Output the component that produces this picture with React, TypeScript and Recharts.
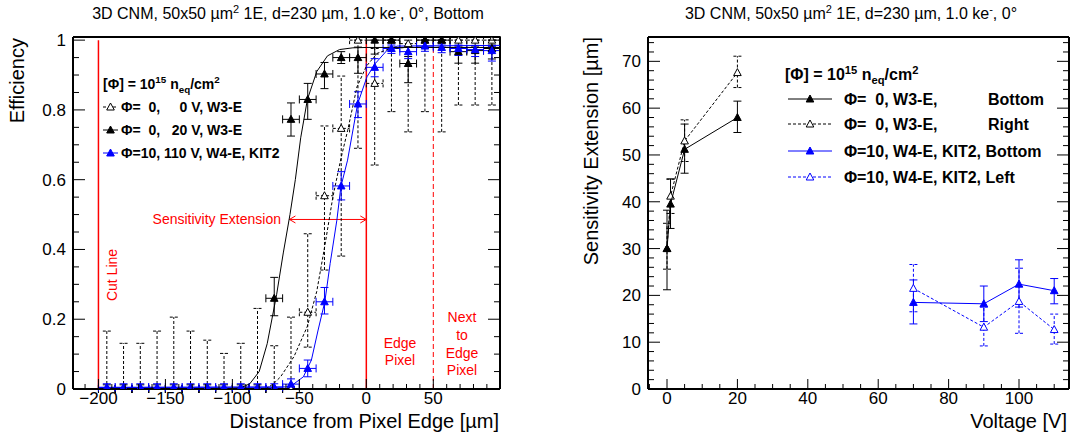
import React from "react"
import {
  ComposedChart,
  Scatter,
  XAxis,
  YAxis,
  ErrorBar,
  ReferenceLine
} from "recharts"

const FONT = "'Liberation Sans', Arial, Helvetica, sans-serif"
const RED = "#ff0000"
const BLUE = "#0000ff"

// ---------- left panel: efficiency vs distance from pixel edge ----------
const binCenters = [
  -193.75, -181.25, -168.75, -156.25, -143.75, -131.25, -118.75, -106.25,
  -93.75, -81.25, -68.75, -56.25, -43.75, -31.25, -18.75, -6.25,
  6.25, 18.75, 31.25, 43.75, 56.25, 68.75, 81.25, 93.75
]
const binHalfWidth = 6.25

// Phi=0, 0 V, W3-E (open, dashed errors)
const eff0V = [0, 0, 0, 0, 0, 0, 0, 0, 0, 0, 0, 0, 0.22, 0.554, 0.747, 1.0, 0.876, 1.0, 0.99, 1.0, 1.0, 1.0, 1.0, 1.0]
const err0VLo = [0, 0, 0, 0, 0, 0, 0, 0, 0, 0, 0, 0, 0.1, 0.213, 0.366, 0.31, 0.234, 0.205, 0.253, 0.205, 0.263, 0.186, 0.186, 0.186]
const err0VHi = [0.166, 0.131, 0.131, 0.166, 0.206, 0.166, 0.14, 0.102, 0.131, 0.231, 0.124, 0.206, 0.225, 0.2, 0.15, 0, 0.1, 0, 0.01, 0, 0, 0, 0, 0]

// Phi=0, 20 V, W3-E (filled black)
const eff20V = [0, 0, 0, 0, 0, 0, 0, 0, 0, 0, 0.26, 0.773, 0.83, 0.903, 0.95, 0.95, 1.0, 1.0, 0.933, 1.0, 1.0, 0.967, 0.97, 0.976]
const err20VLo = [0, 0, 0, 0, 0, 0, 0, 0, 0, 0, 0.05, 0.048, 0.057, 0.042, 0.017, 0.045, 0.04, 0.02, 0.055, 0.02, 0.02, 0.033, 0.036, 0.03]
const err20VHi = [0.012, 0.012, 0.012, 0.012, 0.012, 0.012, 0.012, 0.012, 0.012, 0.012, 0.06, 0.047, 0.046, 0.033, 0.017, 0.03, 0, 0, 0.02, 0, 0, 0.016, 0.013, 0.01]

// Phi=10, 110 V, W4-E, KIT2 (filled blue)
const eff110V = [0.005, 0.005, 0.005, 0.005, 0.005, 0.005, 0.005, 0.005, 0.005, 0.005, 0.005, 0.014, 0.059, 0.25, 0.582, 0.817, 0.922, 0.976, 0.967, 0.983, 0.979, 0.976, 0.973, 0.97]
const err110VLo = [0.005, 0.005, 0.005, 0.005, 0.005, 0.005, 0.005, 0.005, 0.005, 0.005, 0.005, 0.01, 0.024, 0.035, 0.04, 0.039, 0.027, 0.014, 0.02, 0.015, 0.015, 0.02, 0.02, 0.03]
const err110VHi = [0.01, 0.01, 0.01, 0.01, 0.01, 0.01, 0.01, 0.01, 0.01, 0.01, 0.01, 0.015, 0.024, 0.041, 0.041, 0.035, 0.025, 0.01, 0.015, 0.01, 0.01, 0.01, 0.012, 0.012]

// fit curves
const fit20VX = [-105, -94, -87, -80, -74, -67, -62, -57, -53, -49, -44, -37, -29, -20, -10, 0, 100]
const fit20VY = [0, 0.003, 0.015, 0.05, 0.13, 0.27, 0.39, 0.5, 0.6, 0.72, 0.83, 0.91, 0.955, 0.973, 0.978, 0.979, 0.979]
const fit0VX = [-75, -69, -64, -54, -44, -37, -31, -25, -19, -14, -7, 0, 8, 18, 30, 100]
const fit0VY = [0, 0.016, 0.035, 0.093, 0.18, 0.28, 0.41, 0.55, 0.66, 0.74, 0.866, 0.925, 0.962, 0.976, 0.979, 0.979]
const fit110VX = [-200, -60, -56, -47, -41, -36, -31, -27, -22, -19, -14, -6.5, 0.5, 6.7, 15.5, 23, 100]
const fit110VY = [0.004, 0.006, 0.009, 0.035, 0.083, 0.169, 0.25, 0.36, 0.484, 0.58, 0.656, 0.817, 0.895, 0.933, 0.971, 0.983, 0.985]

const cutLineX = -200
const edgeX = 0
const nextEdgeX = 50
const arrowFrom = -57.4
const arrowY = 0.486

// ---------- right panel: sensitivity extension vs voltage ----------
const voltsW3 = [0, 1, 5, 20]
const extW3Bottom = [30, 39.5, 51.2, 58]
const extW3BottomLo = [8.8, 5.2, 5.1, 3.2]
const extW3BottomHi = [8.2, 5.4, 5.4, 3.5]
const extW3Right = [30, 41.2, 53, 67.6]
const extW3RightLo = [4.4, 3.7, 4.4, 3.2]
const extW3RightHi = [5.4, 3.6, 4.5, 3.5]

const voltsW4 = [70, 90, 100, 110]
const extW4Bottom = [18.5, 18.2, 22.4, 21.0]
const extW4BottomLo = [4.6, 3.8, 4.9, 2.8]
const extW4BottomHi = [4.8, 3.8, 5.2, 2.6]
const extW4Left = [21.5, 13.2, 18.7, 12.7]
const extW4LeftLo = [5.0, 4.0, 6.8, 3.1]
const extW4LeftHi = [5.1, 4.3, 7.1, 3.3]

// ---------- helpers ----------
const binRows = (eff: number[], lo: number[], hi: number[]) =>
  binCenters.map((x, i) => ({ x, y: eff[i], ex: binHalfWidth, ey: [lo[i], hi[i]] }))

const curveRows = (xs: number[], ys: number[]) => xs.map((x, i) => ({ x, y: ys[i] }))

const voltRows = (xs: number[], ys: number[], lo: number[], hi: number[]) =>
  xs.map((x, i) => ({ x, y: ys[i], ey: [lo[i], hi[i]] }))

const range = (a: number, b: number, s: number) => {
  const out: number[] = []
  for (let v = a; v <= b + 1e-9; v += s) out.push(Math.round(v * 1000) / 1000)
  return out
}

function triangle(cx: number, cy: number, color: string, filled: boolean) {
  return (
    <polygon
      points={`${cx},${cy - 4} ${cx - 3.8},${cy + 3} ${cx + 3.8},${cy + 3}`}
      fill={filled ? color : "#fff"}
      stroke={color}
      strokeWidth={1}
    />
  )
}

const Marker = (color: string, filled: boolean) => (p: any) =>
  p.cx == null ? <g /> : triangle(p.cx, p.cy, color, filled)

const NoMarker = () => <g />

type Side = "bottom" | "top" | "left" | "right"

function makeTick(side: Side, step: number, majorLen: number, minorLen: number, fmt?: (v: number) => string) {
  return function TickMark(props: any) {
    const { x, y, payload } = props
    const v = Number(payload.value)
    const major = Math.abs(v / step - Math.round(v / step)) < 1e-6
    const len = major ? majorLen : minorLen
    let x2 = x
    let y2 = y
    if (side === "bottom") y2 = y - len
    if (side === "top") y2 = y + len
    if (side === "left") x2 = x + len
    if (side === "right") x2 = x - len
    return (
      <g>
        <line x1={x} y1={y} x2={x2} y2={y2} stroke="#000" strokeWidth={1} />
        {fmt && major && side === "bottom" && (
          <text x={x} y={y + 15} textAnchor="middle" fontSize={17} fontFamily={FONT} fill="#000">{fmt(v)}</text>
        )}
        {fmt && major && side === "left" && (
          <text x={x - 7} y={y + 6} textAnchor="end" fontSize={17} fontFamily={FONT} fill="#000">{fmt(v)}</text>
        )}
      </g>
    )
  }
}

const minusFmt = (v: number) => (v < 0 ? "\u2212" + Math.abs(v) : String(v))
const effFmt = (v: number) => (v === 0 ? "0" : v === 1 ? "1" : v.toFixed(1))

const ArrowShape = (p: any) => {
  const { x1, y1, x2, y2 } = p
  const h = 6
  return (
    <g stroke={RED} strokeWidth={1} fill="none">
      <line x1={x1} y1={y1} x2={x2} y2={y2} />
      <polyline points={`${x1 + h},${y1 - 3.5} ${x1},${y1} ${x1 + h},${y1 + 3.5}`} />
      <polyline points={`${x2 - h},${y2 - 3.5} ${x2},${y2} ${x2 - h},${y2 + 3.5}`} />
    </g>
  )
}

const frame = { stroke: "#000", strokeWidth: 2 }

function EfficiencyPanel() {
  const xTicks = range(-210, 90, 10)
  const yTicks = range(0, 1, 0.05)
  const xDomain = [-219, 99.8]
  const yDomain = [0, 1.009]
  return (
    <ComposedChart width={530} height={436} margin={{ top: 0, right: 0, bottom: 0, left: 0 }}>
      <XAxis dataKey="x" type="number" domain={xDomain} allowDataOverflow ticks={xTicks} interval={0}
        height={47} tickSize={0} tickMargin={0} tickLine={false} axisLine={frame}
        tick={makeTick("bottom", 50, 10, 5, minusFmt)} />
      <XAxis xAxisId="top" orientation="top" type="number" domain={xDomain} allowDataOverflow ticks={xTicks} interval={0}
        height={37} tickSize={0} tickMargin={0} tickLine={false} axisLine={frame}
        tick={makeTick("top", 50, 10, 5)} />
      <YAxis dataKey="y" type="number" domain={yDomain} allowDataOverflow ticks={yTicks} interval={0}
        width={73} tickSize={0} tickMargin={0} tickLine={false} axisLine={frame}
        tick={makeTick("left", 0.2, 12, 6, effFmt)} />
      <YAxis yAxisId="right" orientation="right" type="number" domain={yDomain} allowDataOverflow ticks={yTicks} interval={0}
        width={30} tickSize={0} tickMargin={0} tickLine={false} axisLine={frame}
        tick={makeTick("right", 0.2, 12, 6)} />

      <ReferenceLine segment={[{ x: cutLineX, y: 0 }, { x: cutLineX, y: 1 }]} stroke={RED} strokeWidth={1.5} />
      <ReferenceLine segment={[{ x: edgeX, y: 0 }, { x: edgeX, y: 1 }]} stroke={RED} strokeWidth={1.5} />
      <ReferenceLine segment={[{ x: nextEdgeX, y: 0 }, { x: nextEdgeX, y: 1 }]} stroke={RED} strokeWidth={1} strokeDasharray="5 3" />
      <ReferenceLine segment={[{ x: arrowFrom, y: arrowY }, { x: edgeX, y: arrowY }]} shape={ArrowShape} />

      <Scatter data={curveRows(fit110VX, fit110VY)} shape={NoMarker} line={{ stroke: BLUE, strokeWidth: 1 }} isAnimationActive={false} />
      <Scatter data={curveRows(fit0VX, fit0VY)} shape={NoMarker} line={{ stroke: "#000", strokeWidth: 1, strokeDasharray: "3 2" }} isAnimationActive={false} />
      <Scatter data={curveRows(fit20VX, fit20VY)} shape={NoMarker} line={{ stroke: "#000", strokeWidth: 1 }} isAnimationActive={false} />

      <Scatter data={binRows(eff0V, err0VLo, err0VHi)} shape={Marker("#000", false)} isAnimationActive={false}>
        <ErrorBar dataKey="ex" direction="x" width={4} stroke="#000" strokeWidth={1} strokeDasharray="3 2" />
        <ErrorBar dataKey="ey" direction="y" width={4} stroke="#000" strokeWidth={1} strokeDasharray="3 2" />
      </Scatter>
      <Scatter data={binRows(eff20V, err20VLo, err20VHi)} shape={Marker("#000", true)} isAnimationActive={false}>
        <ErrorBar dataKey="ex" direction="x" width={4} stroke="#000" strokeWidth={1} />
        <ErrorBar dataKey="ey" direction="y" width={4} stroke="#000" strokeWidth={1} />
      </Scatter>
      <Scatter data={binRows(eff110V, err110VLo, err110VHi)} shape={Marker(BLUE, true)} isAnimationActive={false}>
        <ErrorBar dataKey="ex" direction="x" width={4} stroke={BLUE} strokeWidth={1} />
        <ErrorBar dataKey="ey" direction="y" width={4} stroke={BLUE} strokeWidth={1} />
      </Scatter>
    </ComposedChart>
  )
}

function ExtensionPanel() {
  const xTicks = range(-5, 110, 5)
  const yTicks = range(0, 74, 2)
  const xDomain = [-5.4, 114.2]
  const yDomain = [0, 75.2]
  return (
    <ComposedChart width={531} height={436} margin={{ top: 0, right: 0, bottom: 0, left: 0 }}>
      <XAxis dataKey="x" type="number" domain={xDomain} allowDataOverflow ticks={xTicks} interval={0}
        height={47} tickSize={0} tickMargin={0} tickLine={false} axisLine={frame}
        tick={makeTick("bottom", 20, 10, 5, minusFmt)} />
      <XAxis xAxisId="top" orientation="top" type="number" domain={xDomain} allowDataOverflow ticks={xTicks} interval={0}
        height={37} tickSize={0} tickMargin={0} tickLine={false} axisLine={frame}
        tick={makeTick("top", 20, 10, 5)} />
      <YAxis dataKey="y" type="number" domain={yDomain} allowDataOverflow ticks={yTicks} interval={0}
        width={108} tickSize={0} tickMargin={0} tickLine={false} axisLine={frame}
        tick={makeTick("left", 10, 12, 6, minusFmt)} />
      <YAxis yAxisId="right" orientation="right" type="number" domain={yDomain} allowDataOverflow ticks={yTicks} interval={0}
        width={2} tickSize={0} tickMargin={0} tickLine={false} axisLine={frame}
        tick={makeTick("right", 10, 12, 6)} />

      <Scatter data={voltRows(voltsW3, extW3Right, extW3RightLo, extW3RightHi)} shape={Marker("#000", false)}
        line={{ stroke: "#000", strokeWidth: 1, strokeDasharray: "3 2" }} isAnimationActive={false}>
        <ErrorBar dataKey="ey" direction="y" width={4} stroke="#000" strokeWidth={1} strokeDasharray="3 2" />
      </Scatter>
      <Scatter data={voltRows(voltsW3, extW3Bottom, extW3BottomLo, extW3BottomHi)} shape={Marker("#000", true)}
        line={{ stroke: "#000", strokeWidth: 1 }} isAnimationActive={false}>
        <ErrorBar dataKey="ey" direction="y" width={4} stroke="#000" strokeWidth={1} />
      </Scatter>
      <Scatter data={voltRows(voltsW4, extW4Left, extW4LeftLo, extW4LeftHi)} shape={Marker(BLUE, false)}
        line={{ stroke: BLUE, strokeWidth: 1, strokeDasharray: "3 2" }} isAnimationActive={false}>
        <ErrorBar dataKey="ey" direction="y" width={4} stroke={BLUE} strokeWidth={1} strokeDasharray="3 2" />
      </Scatter>
      <Scatter data={voltRows(voltsW4, extW4Bottom, extW4BottomLo, extW4BottomHi)} shape={Marker(BLUE, true)}
        line={{ stroke: BLUE, strokeWidth: 1 }} isAnimationActive={false}>
        <ErrorBar dataKey="ey" direction="y" width={4} stroke={BLUE} strokeWidth={1} />
      </Scatter>
    </ComposedChart>
  )
}

function LegendRow({ x, y, len, color, dashed, filled, size, children }: any) {
  return (
    <g>
      <line x1={x} y1={y} x2={x + len} y2={y} stroke={color} strokeWidth={1} strokeDasharray={dashed ? "3 2" : undefined} />
      {triangle(x + len / 2, y, color, filled)}
      <text x={x + len + 3} y={y + size * 0.36} fontSize={size} fontWeight="bold" fontFamily={FONT} style={{ whiteSpace: "pre" }}>
        {children}
      </text>
    </g>
  )
}

function Overlay() {
  const fluence = (size: number) => (
    <>
      {"[\u03a6] = 10"}
      <tspan dy={-size * 0.4} fontSize={size * 0.7}>15</tspan>
      <tspan dy={size * 0.4}>{" n"}</tspan>
      <tspan dy={size * 0.25} fontSize={size * 0.7}>eq</tspan>
      <tspan dy={-size * 0.25}>/cm</tspan>
      <tspan dy={-size * 0.4} fontSize={size * 0.7}>2</tspan>
    </>
  )
  const title = (tail: string) => (
    <>
      {"3D CNM, 50x50 \u00b5m"}
      <tspan dy={-6} fontSize={11}>2</tspan>
      <tspan dy={6}>{" 1E, d=230 \u00b5m, 1.0 ke"}</tspan>
      <tspan dy={-6} fontSize={11}>-</tspan>
      <tspan dy={6}>{tail}</tspan>
    </>
  )
  return (
    <svg width={1071} height={436} style={{ position: "absolute", left: 0, top: 0, pointerEvents: "none" }} fontFamily={FONT}>
      <text x={288} y={19} textAnchor="middle" fontSize={16}>{title(", 0\u00b0, Bottom")}</text>
      <text x={851} y={19} textAnchor="middle" fontSize={16}>{title(", 0\u00b0")}</text>

      <text transform="translate(24,38) rotate(-90)" textAnchor="end" fontSize={20}>Efficiency</text>
      <text x={499} y={428} textAnchor="end" fontSize={20}>{"Distance from Pixel Edge [\u00b5m]"}</text>
      <text transform="translate(598,37) rotate(-90)" textAnchor="end" fontSize={20}>{"Sensitivity Extension [\u00b5m]"}</text>
      <text x={1067} y={428} textAnchor="end" fontSize={20}>Voltage [V]</text>

      <text x={103} y={89} fontSize={14} fontWeight="bold">{fluence(14)}</text>
      <LegendRow x={103} y={107} len={15} color="#000" dashed filled={false} size={14}>{"\u03a6=  0,     0 V, W3-E"}</LegendRow>
      <LegendRow x={103} y={130} len={15} color="#000" filled size={14}>{"\u03a6=  0,   20 V, W3-E"}</LegendRow>
      <LegendRow x={103} y={153} len={15} color={BLUE} filled size={14}>{"\u03a6=10, 110 V, W4-E, KIT2"}</LegendRow>

      <text x={785} y={80} fontSize={16} fontWeight="bold">{fluence(16)}</text>
      <LegendRow x={788} y={99} len={44} color="#000" filled size={16}>{"  \u03a6=  0, W3-E,"}</LegendRow>
      <LegendRow x={788} y={124} len={44} color="#000" dashed filled={false} size={16}>{"  \u03a6=  0, W3-E,"}</LegendRow>
      <text x={988} y={105} fontSize={16} fontWeight="bold">Bottom</text>
      <text x={988} y={130} fontSize={16} fontWeight="bold">Right</text>
      <LegendRow x={788} y={151} len={44} color={BLUE} filled size={16}>{"  \u03a6=10, W4-E, KIT2, Bottom"}</LegendRow>
      <LegendRow x={788} y={177} len={44} color={BLUE} dashed filled={false} size={16}>{"  \u03a6=10, W4-E, KIT2, Left"}</LegendRow>

      <g fill={RED} fontSize={14}>
        <text x={281} y={224} textAnchor="end">Sensitivity Extension</text>
        <text transform="translate(117,275) rotate(-90)" textAnchor="middle">Cut Line</text>
        <text x={400} y={348} textAnchor="middle">Edge</text>
        <text x={400} y={365} textAnchor="middle">Pixel</text>
        <text x={462} y={322} textAnchor="middle">Next</text>
        <text x={462} y={340} textAnchor="middle">to</text>
        <text x={462} y={358} textAnchor="middle">Edge</text>
        <text x={462} y={375} textAnchor="middle">Pixel</text>
      </g>
    </svg>
  )
}

export default function App() {
  return (
    <div style={{ position: "absolute", left: 0, top: 0, width: 1071, height: 436, background: "#fff", fontFamily: FONT }}>
      <div style={{ position: "absolute", left: 0, top: 0 }}>
        <EfficiencyPanel />
      </div>
      <div style={{ position: "absolute", left: 540, top: 0 }}>
        <ExtensionPanel />
      </div>
      <Overlay />
    </div>
  )
}
